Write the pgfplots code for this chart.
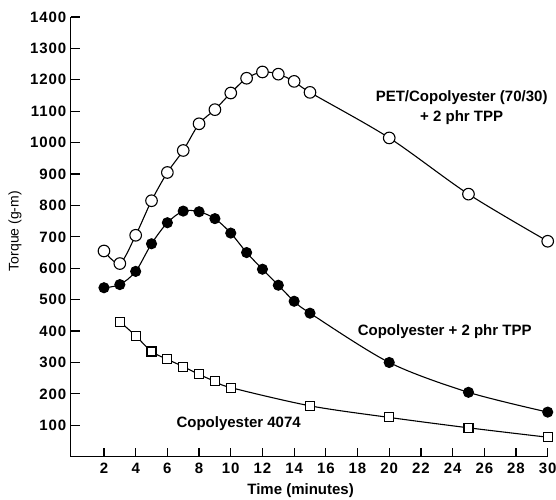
\documentclass[border=0pt]{standalone}
\usepackage{pgfplots}
\pgfplotsset{compat=1.18}
\usepackage{fontspec}
\setmainfont{Liberation Sans}
\newfontfamily\tickfont[LetterSpace=6]{Liberation Sans}
\begin{document}
\begin{tikzpicture}
\useasboundingbox (-70.7pt,-42.3pt) rectangle (485.3pt,456.7pt);
\begin{axis}[
 at={(0,0)}, anchor=south west,
 scale only axis, width=477pt, height=439.7pt,
 xmin=-0.1, xmax=30, ymin=0, ymax=1400,
 axis lines=left, axis line style={-, line width=1.2pt},
 xtick={2,4,...,30}, ytick={100,200,...,1400},
 tick align=inside, major tick length=9pt,
 tick style={line width=1.2pt, black},
 /pgf/number format/assume math mode=true,
 /pgf/number format/1000 sep={},
 ticklabel style={font=\tickfont\fontsize{15}{17}\selectfont\bfseries},
 xticklabel style={yshift=-3pt},
 yticklabel style={xshift=-1pt},
 xlabel={Time (minutes)},
 xlabel style={at={(axis description cs:0.482,0)}, anchor=center, yshift=-34pt, font=\fontsize{15}{17}\selectfont\bfseries},
 ylabel={Torque (g-m)},
 ylabel style={at={(axis description cs:-0.1168,0.513)}, anchor=center, font=\fontsize{14}{16}\selectfont},
 clip=false,
]
\addplot[black, line width=1.1pt, smooth, tension=0.5, mark=*, mark size=5.8pt,
  mark options={fill=white, line width=1.1pt}] coordinates {
 (2,655)(3,615)(4,705)(5,815)(6,905)(7,975)(8,1060)(9,1105)(10,1158)(11,1205)(12,1225)(13,1218)(14,1195)(15,1160)(20,1015)(25,836)(30,686)};
\addplot[black, line width=1.1pt, smooth, tension=0.5, mark=*, mark size=5pt,
  mark options={fill=black}] coordinates {
 (2,538)(3,548)(4,590)(5,678)(6,745)(7,782)(8,780)(9,758)(10,712)(11,650)(12,597)(13,546)(14,495)(15,457)(20,300)(25,205)(30,142)};
\addplot[black, line width=1.1pt, smooth, tension=0.5, mark=square*, mark size=4.5pt,
  mark options={fill=white, line width=1.1pt}] coordinates {
 (3,430)(4,385)(5,335)(6,310)(7,287)(8,262)(9,240)(10,220)(15,162)(20,125)(25,92)(30,62)};
\node[align=center, font=\fontsize{15}{20}\selectfont\bfseries] at (axis cs:24.57,1110) {PET/Copolyester (70/30)\\+ 2 phr TPP};
\node[font=\fontsize{15}{17}\selectfont\bfseries] at (axis cs:23.5,399) {Copolyester + 2 phr TPP};
\node[font=\fontsize{15}{17}\selectfont\bfseries] at (axis cs:10.5,104) {Copolyester 4074};
\end{axis}
\end{tikzpicture}
\end{document}
